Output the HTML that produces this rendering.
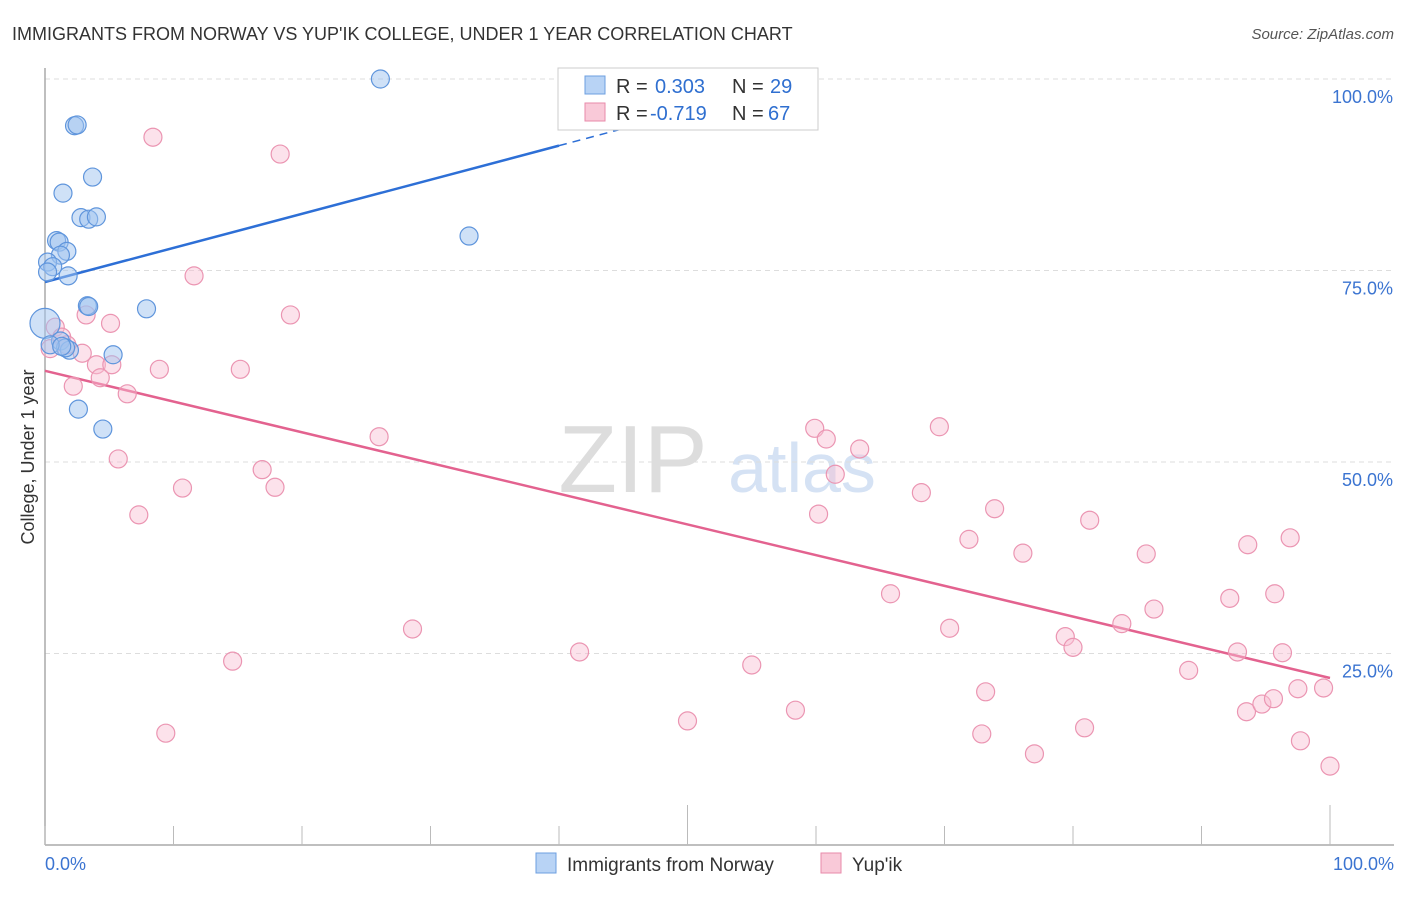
<!DOCTYPE html>
<html><head><meta charset="utf-8"><style>
body{margin:0;background:#fff;font-family:"Liberation Sans",sans-serif}
svg text{font-family:"Liberation Sans",sans-serif}
</style></head><body>
<svg width="1406" height="892" viewBox="0 0 1406 892">
<text x="12" y="40" font-size="18" fill="#333">IMMIGRANTS FROM NORWAY VS YUP'IK COLLEGE, UNDER 1 YEAR CORRELATION CHART</text>
<text x="1394" y="39" font-size="15" fill="#555" font-style="italic" text-anchor="end">Source: ZipAtlas.com</text>
<g>
<text x="633" y="492" font-size="96" font-family="Liberation Serif" fill="#ddd" text-anchor="middle">ZIP</text>
<text x="802" y="492" font-size="70" fill="#d5e2f4" text-anchor="middle">atlas</text>
</g>
<g id="grid"></g>
<g id="axes"></g>
<text transform="translate(34,457) rotate(-90)" font-size="18" fill="#333" text-anchor="middle">College, Under 1 year</text>
<g id="lines"></g>
<g id="pts"></g>
<g>
<rect x="558" y="68" width="260" height="62" fill="#fff" stroke="#ccc"/>
<rect x="585" y="76" width="20" height="18" fill="#b8d3f5" stroke="#6d9fe0"/>
<text x="616" y="93" font-size="20" fill="#333">R = </text><text x="655" y="93" font-size="20" fill="#2f6fd0">0.303</text>
<text x="732" y="93" font-size="20" fill="#333">N = </text><text x="770" y="93" font-size="20" fill="#2f6fd0">29</text>
<rect x="585" y="103" width="20" height="18" fill="#f9c9d8" stroke="#e88aaa"/>
<text x="616" y="120" font-size="20" fill="#333">R = </text><text x="650" y="120" font-size="20" fill="#2f6fd0">-0.719</text>
<text x="732" y="120" font-size="20" fill="#333">N = </text><text x="768" y="120" font-size="20" fill="#2f6fd0">67</text>
</g>
<g>
<rect x="536" y="853" width="20" height="20" fill="#b8d3f5" stroke="#6d9fe0"/>
<text x="567" y="871" font-size="19" fill="#333">Immigrants from Norway</text>
<rect x="821" y="853" width="20" height="20" fill="#f9c9d8" stroke="#e88aaa"/>
<text x="852" y="871" font-size="19" fill="#333">Yup'ik</text>
</g>
</svg>
<script>
const blueX=[26.1,2.3,2.5,3.7,1.4,2.8,3.4,4.0,0.9,1.1,1.7,1.2,0.2,0.6,0.2,1.8,33.0,3.3,3.4,7.9,0,1.2,1.9,1.6,5.3,2.6,4.5,0.4,1.3];
const blueY=[100,93.9,94.0,87.2,85.1,81.9,81.7,82.0,78.9,78.7,77.5,77.0,76.1,75.5,74.8,74.3,79.5,70.4,70.3,70.0,68.1,65.8,64.6,64.9,64.0,56.9,54.3,65.3,65.1];
const pinkX=[8.4,18.3,11.6,19.1,3.2,5.1,0.8,1.3,1.7,0.4,2.9,4.0,5.2,8.9,15.2,2.2,4.3,6.4,26.0,5.7,10.7,16.9,17.9,7.3,28.6,14.6,9.4,41.6,50.0,55.0,58.4,59.9,60.8,63.4,61.5,60.2,68.2,69.6,71.9,73.9,65.8,70.4,73.2,72.9,77.0,76.1,79.4,80.0,80.9,81.3,85.7,83.8,86.3,89.0,92.2,93.6,92.8,93.5,94.7,95.6,95.7,96.3,96.9,97.5,97.7,99.5,100];
const pinkY=[92.4,90.2,74.3,69.2,69.2,68.1,67.6,66.3,65.3,64.8,64.2,62.7,62.7,62.1,62.1,59.9,61.0,58.9,53.3,50.4,46.6,49.0,46.7,43.1,28.2,24.0,14.6,25.2,16.2,23.5,17.6,54.4,53.0,51.7,48.4,43.2,46.0,54.6,39.9,43.9,32.8,28.3,20.0,14.5,11.9,38.1,27.2,25.8,15.3,42.4,38.0,28.9,30.8,22.8,32.2,39.2,25.2,17.4,18.4,19.1,32.8,25.1,40.1,20.4,13.6,20.5,10.3];
const blueTrend=[73.5,91.3];
const pinkTrend=[61.9,21.8];
const yTicks=[100,75,50,25];
const yTickLabels=["100.0%","75.0%","50.0%","25.0%"];
const xTicks=[0,10,20,30,40,50,60,70,80,90,100];

const NS="http://www.w3.org/2000/svg";
const sx=v=>45+v*12.85, sy=v=>845-v*7.66;
function mk(tag,attrs,parent){const e=document.createElementNS(NS,tag);for(const k in attrs)e.setAttribute(k,attrs[k]);document.getElementById(parent).appendChild(e);return e;}
yTicks.forEach((t,i)=>{
  const g=mk('line',{x1:45,x2:1394,y1:sy(t),y2:sy(t),stroke:'#ddd','stroke-dasharray':'5,4'},'grid');
  
  
  const tx=mk('text',{x:1393,y:sy(t)+24,'font-size':18,fill:'#3b74d1','text-anchor':'end'},'grid');
  tx.textContent=yTickLabels[i];
  
  
});
const ax=mk('line',{x1:45,x2:1394,y1:845,y2:845,stroke:'#aaa','stroke-width':1.5},'axes');


const ay=mk('line',{x1:45,x2:45,y1:68,y2:845,stroke:'#aaa','stroke-width':1.5},'axes');


xTicks.forEach(t=>{
  const long=(t===50||t===100);
  const l=mk('line',{x1:sx(t),x2:sx(t),y1:long?805:826,y2:845,stroke:'#bbb'},'axes');
  
  
});
const x0=mk('text',{x:45,y:870,'font-size':18,fill:'#3b74d1'},'axes');x0.textContent='0.0%';


const x1=mk('text',{x:1394,y:870,'font-size':18,fill:'#3b74d1','text-anchor':'end'},'axes');x1.textContent='100.0%';


// trends
const bSlope=(blueTrend[1]-blueTrend[0])/40;
const bl=mk('line',{x1:sx(0),y1:sy(blueTrend[0]),x2:sx(40),y2:sy(blueTrend[1]),stroke:'#2d6fd6','stroke-width':2.5},'lines');


const bd=mk('line',{x1:sx(40),y1:sy(blueTrend[1]),x2:sx(50),y2:sy(blueTrend[1]+bSlope*10),stroke:'#2d6fd6','stroke-width':1.5,'stroke-dasharray':'8,6'},'lines');


const pl=mk('line',{x1:sx(0),y1:sy(pinkTrend[0]),x2:sx(100),y2:sy(pinkTrend[1]),stroke:'#e3628f','stroke-width':2.5},'lines');


pinkX.forEach((x,i)=>{
  const c=mk('circle',{cx:sx(x),cy:sy(pinkY[i]),r:9,fill:'rgba(248,190,210,0.45)',stroke:'#eb95b2','stroke-width':1.2},'pts');
  
  
});
blueX.forEach((x,i)=>{
  const c=mk('circle',{cx:sx(x),cy:sy(blueY[i]),r:(i===20?15:9),fill:'rgba(160,196,240,0.5)',stroke:'#5f95dc','stroke-width':1.2},'pts');
  
  
});
</script>
</body></html>
